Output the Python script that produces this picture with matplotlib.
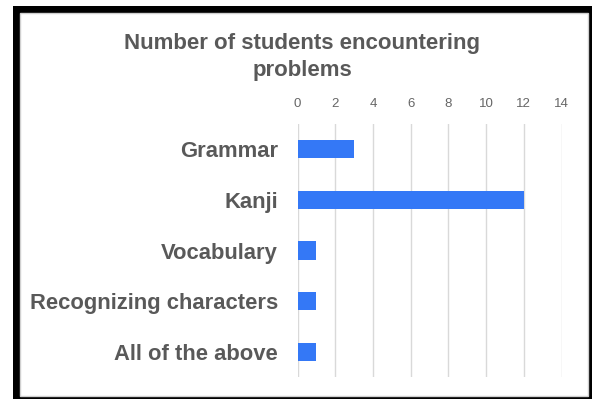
import matplotlib
matplotlib.use("Agg")
import matplotlib.pyplot as plt
from matplotlib.patches import Rectangle

categories = ["Grammar", "Kanji", "Vocabulary", "Recognizing characters", "All of the above"]
values = [3, 12, 1, 1, 1]
xticks = [0, 2, 4, 6, 8, 10, 12, 14]
title = "Number of students encountering\nproblems"

plt.rcParams['font.family'] = ['Liberation Sans', 'DejaVu Sans']

W, H = 592, 399
fig = plt.figure(figsize=(W / 100, H / 100), dpi=100)

def px(x0, y0, x1, y1):
    return (x0 / W, 1 - y1 / H, (x1 - x0) / W, (y1 - y0) / H)

# frame
b = px(13, 6, 592, 399)
fig.patches.append(Rectangle((b[0], b[1]), b[2], b[3], transform=fig.transFigure,
                             facecolor='black', edgecolor='none', zorder=0))
w = px(20, 13, 588, 396)
fig.patches.append(Rectangle((w[0], w[1]), w[2], w[3], transform=fig.transFigure,
                             facecolor='white', edgecolor='#d0d0d0', linewidth=1.0, zorder=1))

ax = fig.add_axes(px(297.5, 124, 561.5, 377))
ax.set_zorder(2)
ax.patch.set_alpha(0)
y = list(range(len(categories)))
ax.barh(y, values, height=0.36, color='#3478f6', zorder=3)
ax.set_ylim(len(categories) - 0.5, -0.5)
ax.set_xlim(0, 14)
ax.set_xticks(xticks)
ax.set_xticklabels([str(t) for t in xticks])
ax.xaxis.tick_top()
ax.tick_params(axis='x', length=0, pad=10, labelsize=9.5, labelcolor='#666666')
ax.set_yticks(y)
ax.set_yticklabels(categories, fontsize=15.8, fontweight='bold', color='#595959')
ax.tick_params(axis='y', length=0, pad=14)
ax.grid(axis='x', color='#d9d9d9', linewidth=1.0, zorder=0)
for s in ax.spines.values():
    s.set_visible(False)

fig.text(302 / W, 1 - 57 / H, title, ha='center', va='center', fontsize=16,
         fontweight='bold', color='#595959', linespacing=1.32, zorder=5)

fig.savefig("out.png", dpi=100)
